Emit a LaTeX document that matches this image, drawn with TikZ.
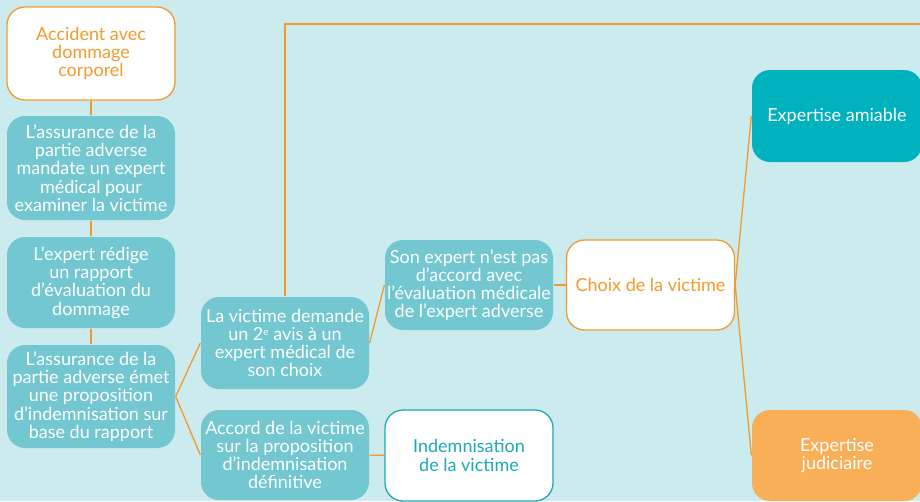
\documentclass[tikz,border=0pt]{standalone}
\usepackage{fontspec}
\setmainfont{Lato}
\usepackage{tikz}
\usetikzlibrary{arrows,positioning,shapes,calc}
\usepackage{xcolor}
\definecolor{bgcol}{HTML}{CCEBEE}
\definecolor{boxcol}{HTML}{72C7D1}
\definecolor{darkcol}{HTML}{00B1BE}
\definecolor{orcol}{HTML}{F39A2C}
\definecolor{lightor}{HTML}{F9AE58}
\definecolor{tealtxt}{HTML}{1BA9B7}

\begin{document}
\begin{tikzpicture}[x=1pt, y=-1pt, line width=1.3pt,
  base node/.style={rectangle,rounded corners=18pt,minimum width=168pt,minimum height=92pt,inner sep=0pt,align=center,font=\fontsize{18}{18.2}\selectfont},
  teal node/.style={base node,fill=boxcol,text=white},
  white node/.style={base node,fill=white,draw=orcol,text=orcol},
  end node/.style={base node,fill=white,draw=tealtxt,text=tealtxt}]%px units
\clip (0,0) rectangle (920,501);
\fill[bgcol] (0,0) rectangle (920,501);
\begin{scope}
\node[white node,minimum height=93pt] (v1) at (91,53.5) {Accident avec\\dommage\\corporel};
\node[teal node,minimum height=104pt] (v2) at (91,168) {L’assurance de la\\partie adverse\\mandate un expert\\médical pour\\examiner la victime};
\node[teal node,minimum height=91pt] (v3) at (91,282.5) {L’expert rédige\\un rapport\\d’évaluation du\\dommage};
\node[teal node,minimum height=103pt] (v4) at (91,396.5) {L’assurance de la\\partie adverse émet\\une proposition\\d’indemnisation sur\\base du rapport};
\node[teal node] (v5) at (285,343) {La victime demande\\un 2\raisebox{0.28em}{\fontsize{10}{10}\selectfont e} avis à un\\expert médical de\\son choix};
\node[teal node,minimum height=90pt] (v6) at (285,455) {Accord de la victime\\sur la proposition\\d’indemnisation\\définitive};
\node[teal node,minimum height=90pt] (v7) at (469,285) {Son expert n’est pas\\d’accord avec\\l’évaluation médicale\\de l’expert adverse};
\node[white node,minimum height=90pt] (v8) at (650.5,285) {Choix de la victime};
\node[end node,minimum height=91pt] (v9) at (469,455.5) {Indemnisation\\de la victime};
\node[base node,fill=darkcol,text=white,minimum width=170pt] (vA) at (837,116) {Expertise amiable};
\node[base node,fill=lightor,text=white,minimum width=170pt,minimum height=91pt] (vB) at (837,455.5) {Expertise\\judiciaire};
\coordinate (vOut) at (930,24);
\end{scope}
\begin{scope}[orcol]
\draw (v1) edge (v2);
\draw (v2) edge (v3);
\draw (v3) edge (v4);
\draw (v4.east) edge (v5.west);
\draw (v4.east) edge (v6.west);
\draw (v5.east) edge (v7.west);
\draw (v7) edge (v8);
\draw (v8.east) edge (vA.west);
\draw (v8.east) edge (vB.west);
\draw (v6) edge (v9);
\draw (v5.north) |- (vOut);
\end{scope}
\end{tikzpicture}
\end{document}
